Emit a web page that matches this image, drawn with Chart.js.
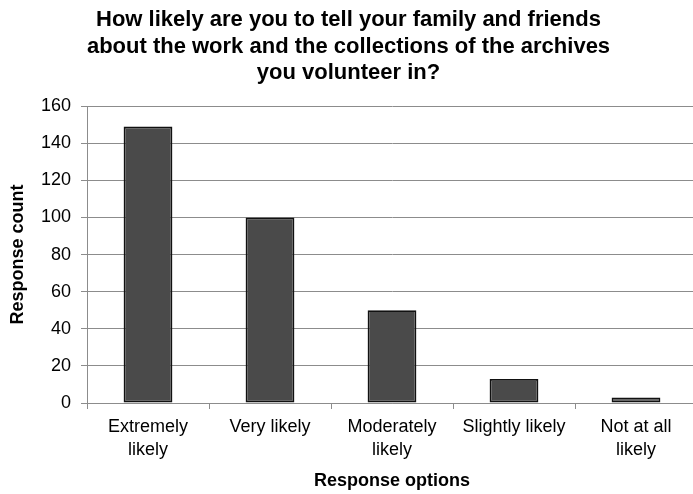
<!DOCTYPE html>
<html>
<head>
<meta charset="utf-8">
<script src="https://cdn.jsdelivr.net/npm/chart.js@4/dist/chart.umd.min.js"></script>
<style>
  html, body { margin: 0; padding: 0; background: #fff; overflow: hidden; }
  #wrap { width: 697px; height: 494px; }
</style>
</head>
<body>
<div id="wrap"><canvas id="chart" width="697" height="494"></canvas></div>
<script>
// survey answers and counts
const categories = [["Extremely", "likely"], "Very likely", ["Moderately", "likely"], "Slightly likely", ["Not at all", "likely"]];
const counts = [149, 100, 50, 13, 3];
const yTicks = [0, 20, 40, 60, 80, 100, 120, 140, 160];

const titleLines = [
  "How likely are you to tell your family and friends",
  "about the work and the collections of the archives",
  "you volunteer in?"
];

const FONT = "'Liberation Sans', Arial, Helvetica, sans-serif";
const GRID = "#8c8c8c";

new Chart(document.getElementById("chart").getContext("2d"), {
  type: "bar",
  data: {
    labels: categories,
    datasets: [{
      data: counts,
      backgroundColor: "#4a4a4a",
      borderColor: "#111",
      borderWidth: 1.8,
      borderSkipped: false,
      categoryPercentage: 1,
      barPercentage: 0.4
    }]
  },
  options: {
    responsive: false,
    animation: false,
    layout: { padding: 0 },
    plugins: {
      legend: { display: false },
      tooltip: { enabled: false },
      title: {
        display: true,
        text: titleLines,
        color: "#000",
        font: { family: FONT, size: 22, weight: "bold", lineHeight: 1.2 },
        padding: { top: 7, bottom: 20 }
      }
    },
    scales: {
      x: {
        grid: { display: true, drawOnChartArea: false, color: GRID, tickLength: 6, offset: true },
        border: { color: GRID },
        ticks: {
          color: "#000", padding: 6, maxRotation: 0, autoSkip: false,
          font: { family: FONT, size: 18, lineHeight: 1.3 }
        },
        title: {
          display: true, text: "Response options", color: "#000",
          font: { family: FONT, size: 18, weight: "bold" },
          padding: { top: 2, bottom: 2 }
        },
        afterFit(scale) { scale.height = 91; }
      },
      y: {
        min: 0, max: 160,
        afterBuildTicks(scale) { scale.ticks = yTicks.map(v => ({ value: v })); },
        grid: { color: GRID, tickLength: 6 },
        border: { color: GRID },
        ticks: { color: "#000", padding: 10, font: { family: FONT, size: 18 } },
        title: {
          display: true, text: "Response count", color: "#000",
          font: { family: FONT, size: 18, weight: "bold" },
          padding: { top: 7, bottom: 0 }
        },
        afterFit(scale) { scale.width = 87; }
      }
    }
  }
});
</script>
</body>
</html>
